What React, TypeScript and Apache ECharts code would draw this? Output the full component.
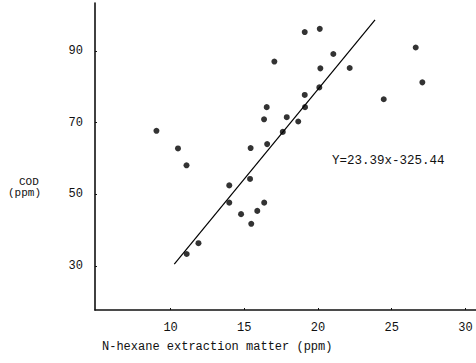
import React, { useEffect, useRef } from "react";
import * as echarts from "echarts";

const xTicks = [10, 15, 20, 25, 30];
const yTicks = [30, 50, 70, 90];

const hexane = [
  9.04, 10.5, 11.08, 11.09, 11.89, 13.98, 13.98, 14.78, 15.47, 15.88, 16.35,
  15.39, 15.43, 16.55, 17.61, 18.66, 16.34, 16.52, 17.88, 17.04, 19.1, 20.12,
  21.04, 20.16, 22.15, 26.63, 27.08, 24.46, 19.1, 20.09, 19.12,
];
const cod = [
  67.7, 62.8, 58.1, 33.4, 36.4, 52.5, 47.7, 44.5, 41.8, 45.4, 47.7, 54.3, 62.9,
  64.0, 67.4, 70.3, 70.9, 74.3, 71.5, 87.0, 95.2, 96.1, 89.1, 85.1, 85.2, 90.9,
  81.2, 76.5, 77.7, 79.8, 74.3,
];
const fitX = [10.25, 23.87];
const fitY = [30.6, 98.6];

const equation = "Y=23.39x-325.44";
const xName = "N-hexane extraction matter (ppm)";
const yName1 = "COD";
const yName2 = "(ppm)";

const FONT = "'Liberation Mono', 'DejaVu Sans Mono', monospace";

export default function App() {
  const ref = useRef<HTMLDivElement>(null);
  useEffect(() => {
    if (!ref.current) return;
    const chart = echarts.init(ref.current, null, { renderer: "svg" });
    chart.setOption({
      animation: false,
      backgroundColor: "#ffffff",
      grid: { left: 95, right: 0, top: 3, bottom: 53 },
      xAxis: {
        type: "value",
        min: 4.87,
        max: 30.72,
        splitLine: { show: false },
        axisLine: { lineStyle: { color: "#111", width: 1.6 } },
        axisTick: { show: true, inside: true, length: 2, customValues: xTicks, lineStyle: { color: "#111" } },
        axisLabel: {
          customValues: xTicks,
          color: "#111",
          fontFamily: FONT,
          fontSize: 12,
          margin: 12,
        },
      },
      yAxis: {
        type: "value",
        min: 17.8,
        max: 103.3,
        splitLine: { show: false },
        axisLine: { lineStyle: { color: "#111", width: 1.6 } },
        axisTick: { show: true, inside: true, length: 2, customValues: yTicks, lineStyle: { color: "#111" } },
        axisLabel: {
          customValues: yTicks,
          color: "#111",
          fontFamily: FONT,
          fontSize: 12,
          margin: 12,
        },
      },
      series: [
        {
          type: "scatter",
          data: hexane.map((x, i) => [x, cod[i]]),
          symbol: "circle",
          symbolSize: 6,
          itemStyle: { color: "#000" },
        },
        {
          type: "line",
          data: fitX.map((x, i) => [x, fitY[i]]),
          symbol: "none",
          lineStyle: { color: "#000", width: 1.2 },
        },
      ],
      graphic: [
        {
          type: "text",
          left: 332,
          top: 154,
          style: { text: equation, fill: "#111", font: `12.5px ${FONT}` },
        },
        {
          type: "text",
          left: 102,
          top: 341,
          style: { text: xName, fill: "#111", font: `12px ${FONT}` },
        },
        {
          type: "text",
          left: 19,
          top: 176,
          style: { text: yName1, fill: "#111", font: `11px ${FONT}` },
        },
        {
          type: "text",
          left: 8,
          top: 187,
          style: { text: yName2, fill: "#111", font: `11px ${FONT}` },
        },
      ],
    });
    return () => chart.dispose();
  }, []);
  return (
    <div
      ref={ref}
      style={{ position: "absolute", left: 0, top: 0, width: 476, height: 363 }}
    />
  );
}
